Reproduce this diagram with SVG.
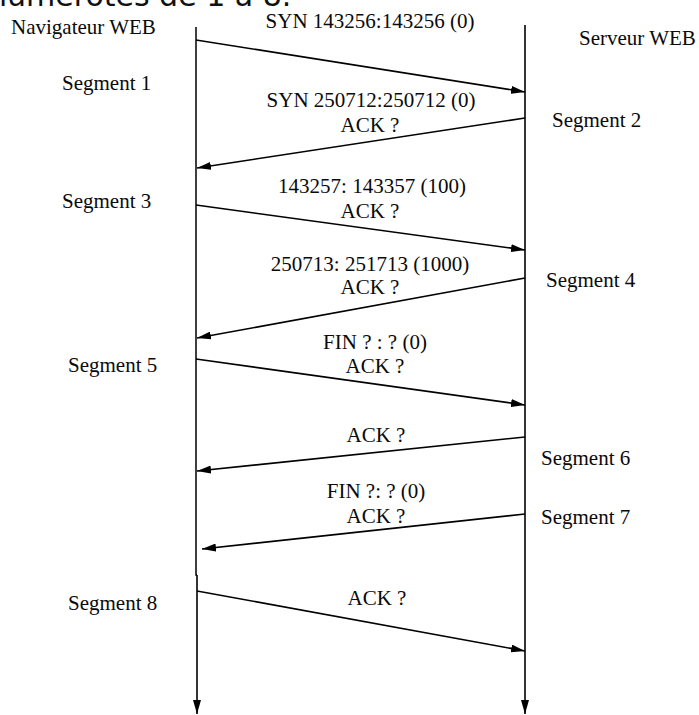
<svg xmlns="http://www.w3.org/2000/svg" width="699" height="715" viewBox="0 0 699 715">
<defs>
<marker id="ah" markerUnits="userSpaceOnUse" markerWidth="14" markerHeight="8" refX="14" refY="4" orient="auto">
<path d="M0,0 L14,4 L0,8 z" fill="#000"/>
</marker>
<style>
.t{font-family:"Liberation Serif","Times New Roman",serif;font-size:21px;fill:#0a0a0a}
.c{text-anchor:middle}
.ln{stroke:#000;stroke-width:1.5;fill:none}
.msg{stroke:#000;stroke-width:1.6;fill:none;marker-end:url(#ah)}
.hd{font-family:"DejaVu Sans","Liberation Sans",sans-serif;font-size:30px;fill:#111}
</style>
</defs>
<rect width="699" height="715" fill="#fff"/>
<text class="hd" x="-12" y="6">numérotés de 1 à 8.</text>

<g id="nav">
<text class="t" x="11" y="34">Navigateur WEB</text>
</g>
<g id="srv">
<text class="t" x="579" y="45">Serveur WEB</text>
</g>

<g id="lifelines">
<path class="ln" d="M196,27 L196,575 L197,575" />
<path class="msg" d="M197,575 L197,714" />
<path class="msg" d="M525,25 L525,714" />
</g>

<g id="labels">
<text class="t" x="62" y="90">Segment 1</text>
<text class="t" x="552" y="127">Segment 2</text>
<text class="t" x="62" y="208">Segment 3</text>
<text class="t" x="546" y="287">Segment 4</text>
<text class="t" x="68" y="372">Segment 5</text>
<text class="t" x="541" y="465">Segment 6</text>
<text class="t" x="541" y="524">Segment 7</text>
<text class="t" x="68" y="610">Segment 8</text>
</g>

<g id="connectors">
<path class="msg" d="M196,40 L525,92"/>
<path class="msg" d="M525,118 L197,168"/>
<path class="msg" d="M196,205 L525,250"/>
<path class="msg" d="M525,278 L197,338"/>
<path class="msg" d="M196,359 L525,405"/>
<path class="msg" d="M525,437 L197,471"/>
<path class="msg" d="M525,514 L202,549"/>
<path class="msg" d="M197,591 L525,651"/>
</g>

<g id="msglabels">
<text class="t c" x="370" y="28">SYN 143256:143256 (0)</text>
<text class="t c" x="371" y="107">SYN 250712:250712 (0)</text>
<text class="t c" x="370" y="132">ACK  ?</text>
<text class="t c" x="372" y="193">143257: 143357 (100)</text>
<text class="t c" x="370" y="218">ACK  ?</text>
<text class="t c" x="370" y="271">250713: 251713 (1000)</text>
<text class="t c" x="370" y="294">ACK  ?</text>
<text class="t c" x="375" y="349">FIN ? : ? (0)</text>
<text class="t c" x="375" y="373">ACK  ?</text>
<text class="t c" x="376" y="442">ACK  ?</text>
<text class="t c" x="376" y="498">FIN ?: ? (0)</text>
<text class="t c" x="376" y="523">ACK  ?</text>
<text class="t c" x="377" y="605">ACK  ?</text>
</g>
</svg>
